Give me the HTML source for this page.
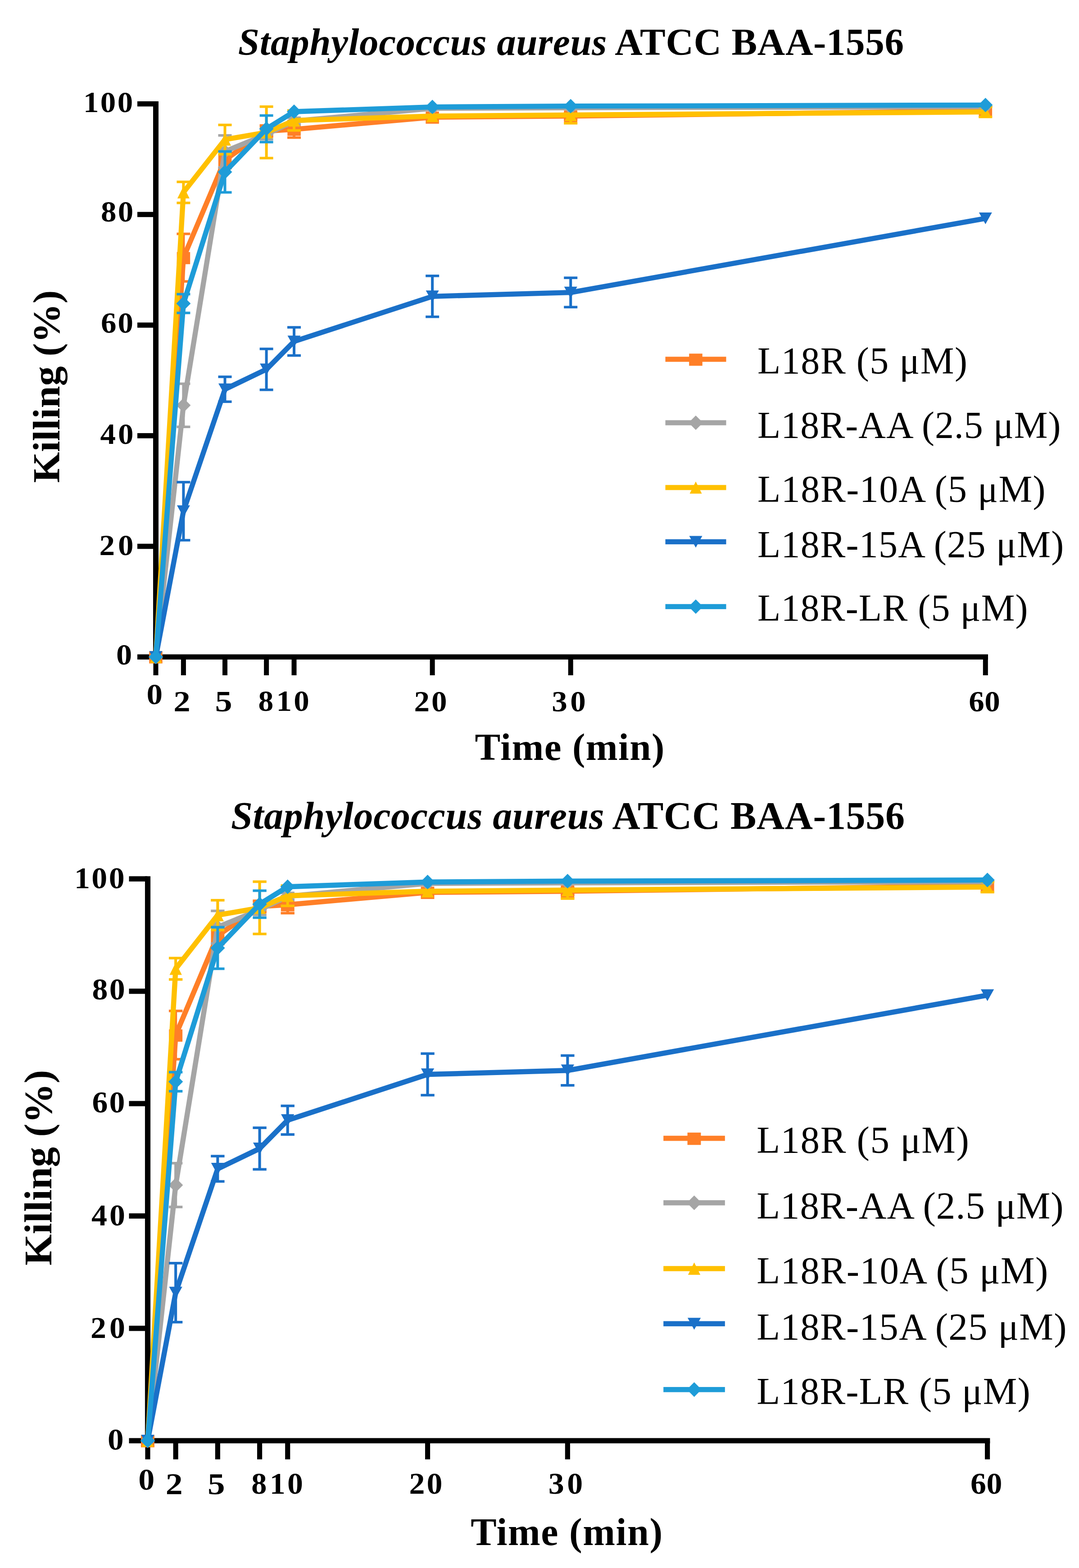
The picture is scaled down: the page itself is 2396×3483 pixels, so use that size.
<!DOCTYPE html>
<html><head><meta charset="utf-8"><title>Staphylococcus aureus ATCC BAA-1556 killing kinetics</title>
<style>html,body{margin:0;padding:0;background:#fff;} svg{display:block;}</style></head>
<body>
<svg width="2396" height="3483" viewBox="0 0 2396 3483">
<rect width="2396" height="3483" fill="#fff"/>
<g>
<text x="528.8" y="121.5" font-family="Liberation Serif, Times New Roman, serif" font-size="85" font-weight="bold" letter-spacing="0.67"><tspan font-style="italic">Staphylococcus aureus</tspan> ATCC BAA-1556</text>
<rect x="340" y="225" width="12" height="1240" fill="#000"/>
<rect x="305" y="1453.5" width="1889" height="11.5" fill="#000"/>
<rect x="305" y="225.0" width="40" height="11.5" fill="#000"/>
<rect x="305" y="470.7" width="40" height="11.5" fill="#000"/>
<rect x="305" y="716.4" width="40" height="11.5" fill="#000"/>
<rect x="305" y="962.1" width="40" height="11.5" fill="#000"/>
<rect x="305" y="1207.8" width="40" height="11.5" fill="#000"/>
<rect x="340.5" y="1460" width="11" height="40" fill="#000"/>
<rect x="401.9" y="1460" width="11" height="40" fill="#000"/>
<rect x="494.0" y="1460" width="11" height="40" fill="#000"/>
<rect x="586.1" y="1460" width="11" height="40" fill="#000"/>
<rect x="647.5" y="1460" width="11" height="40" fill="#000"/>
<rect x="954.6" y="1460" width="11" height="40" fill="#000"/>
<rect x="1261.7" y="1460" width="11" height="40" fill="#000"/>
<rect x="2182.8" y="1460" width="11" height="40" fill="#000"/>
<text transform="translate(184.90,248.50) scale(1.05,1)" x="0" y="0" font-family="Liberation Serif, Times New Roman, serif" font-size="65.7" font-weight="bold" letter-spacing="3.286">100</text>
<text transform="translate(223.90,491.90) scale(1.05,1)" x="0" y="0" font-family="Liberation Serif, Times New Roman, serif" font-size="65.7" font-weight="bold" letter-spacing="3.143">80</text>
<text transform="translate(224.00,738.90) scale(1.05,1)" x="0" y="0" font-family="Liberation Serif, Times New Roman, serif" font-size="65.7" font-weight="bold" letter-spacing="2.857">60</text>
<text transform="translate(222.50,985.90) scale(1.05,1)" x="0" y="0" font-family="Liberation Serif, Times New Roman, serif" font-size="65.7" font-weight="bold" letter-spacing="4.762">40</text>
<text transform="translate(220.50,1232.50) scale(1.05,1)" x="0" y="0" font-family="Liberation Serif, Times New Roman, serif" font-size="65.7" font-weight="bold" letter-spacing="6.667">20</text>
<text transform="translate(258.00,1476.40) scale(1.0717,1)" x="0" y="0" font-family="Liberation Serif, Times New Roman, serif" font-size="65.7" font-weight="bold" letter-spacing="0.0">0</text>
<text transform="translate(325.40,1564.40) scale(1.0826,1)" x="0" y="0" font-family="Liberation Serif, Times New Roman, serif" font-size="65.7" font-weight="bold" letter-spacing="0.0">0</text>
<text transform="translate(385.20,1579.60) scale(1.1405,1)" x="0" y="0" font-family="Liberation Serif, Times New Roman, serif" font-size="65.7" font-weight="bold" letter-spacing="0.0">2</text>
<text transform="translate(477.50,1579.60) scale(1.1586,1)" x="0" y="0" font-family="Liberation Serif, Times New Roman, serif" font-size="65.7" font-weight="bold" letter-spacing="0.0">5</text>
<text transform="translate(573.40,1579.40) scale(1.0255,1)" x="0" y="0" font-family="Liberation Serif, Times New Roman, serif" font-size="65.7" font-weight="bold" letter-spacing="0.0">8</text>
<text transform="translate(613.60,1579.40) scale(1.05,1)" x="0" y="0" font-family="Liberation Serif, Times New Roman, serif" font-size="65.7" font-weight="bold" letter-spacing="3.905">10</text>
<text transform="translate(919.50,1579.50) scale(1.05,1)" x="0" y="0" font-family="Liberation Serif, Times New Roman, serif" font-size="65.7" font-weight="bold" letter-spacing="3.905">20</text>
<text transform="translate(1225.20,1579.50) scale(1.05,1)" x="0" y="0" font-family="Liberation Serif, Times New Roman, serif" font-size="65.7" font-weight="bold" letter-spacing="6.19">30</text>
<text transform="translate(2151.20,1579.50) scale(1.05,1)" x="0" y="0" font-family="Liberation Serif, Times New Roman, serif" font-size="65.7" font-weight="bold" letter-spacing="0.476">60</text>
<text x="1054.6" y="1687.7" font-family="Liberation Serif, Times New Roman, serif" font-size="85" font-weight="bold" letter-spacing="1.55">Time (min)</text>
<text transform="translate(131.70,1072.50) rotate(-90) scale(1.035,1)" x="0" y="0" font-family="Liberation Serif, Times New Roman, serif" font-size="85" font-weight="bold">Killing (%)</text>
<path d="M346.0 1459.2L407.4 572.3L499.5 354.9L591.6 291.0L653.0 287.3L960.1 260.3L1267.2 257.8L2188.3 246.2" fill="none" stroke="#FF7F27" stroke-width="11.3" stroke-linejoin="round"/>
<rect x="404.4" y="519.5" width="6.0" height="105.6" fill="#FF7F27"/>
<rect x="392.4" y="516.7" width="30.0" height="5.6" fill="#FF7F27"/>
<rect x="392.4" y="622.3" width="30.0" height="5.6" fill="#FF7F27"/>
<rect x="496.5" y="336.4" width="6.0" height="36.9" fill="#FF7F27"/>
<rect x="484.5" y="333.6" width="30.0" height="5.6" fill="#FF7F27"/>
<rect x="484.5" y="370.5" width="30.0" height="5.6" fill="#FF7F27"/>
<rect x="588.6" y="278.7" width="6.0" height="24.6" fill="#FF7F27"/>
<rect x="576.6" y="275.9" width="30.0" height="5.6" fill="#FF7F27"/>
<rect x="576.6" y="300.5" width="30.0" height="5.6" fill="#FF7F27"/>
<rect x="650.0" y="268.9" width="6.0" height="36.9" fill="#FF7F27"/>
<rect x="638.0" y="266.1" width="30.0" height="5.6" fill="#FF7F27"/>
<rect x="638.0" y="302.9" width="30.0" height="5.6" fill="#FF7F27"/>
<rect x="1264.2" y="250.5" width="6.0" height="14.7" fill="#FF7F27"/>
<rect x="1252.2" y="247.7" width="30.0" height="5.6" fill="#FF7F27"/>
<rect x="1252.2" y="262.4" width="30.0" height="5.6" fill="#FF7F27"/>
<rect x="331.2" y="1446.7" width="29.5" height="27" fill="#FF7F27"/>
<rect x="392.7" y="559.8" width="29.5" height="27" fill="#FF7F27"/>
<rect x="484.8" y="342.4" width="29.5" height="27" fill="#FF7F27"/>
<rect x="576.9" y="278.5" width="29.5" height="27" fill="#FF7F27"/>
<rect x="638.3" y="274.8" width="29.5" height="27" fill="#FF7F27"/>
<rect x="945.3" y="247.8" width="29.5" height="27" fill="#FF7F27"/>
<rect x="1252.4" y="245.3" width="29.5" height="27" fill="#FF7F27"/>
<rect x="2173.6" y="233.7" width="29.5" height="27" fill="#FF7F27"/>
<path d="M346.0 1459.2L407.4 900.3L499.5 336.4L591.6 298.4L653.0 268.9L960.1 240.6L1267.2 239.4L2188.3 236.9" fill="none" stroke="#A5A5A5" stroke-width="11.3" stroke-linejoin="round"/>
<rect x="404.4" y="852.4" width="6.0" height="95.8" fill="#A5A5A5"/>
<rect x="392.4" y="849.6" width="30.0" height="5.6" fill="#A5A5A5"/>
<rect x="392.4" y="945.4" width="30.0" height="5.6" fill="#A5A5A5"/>
<rect x="496.5" y="300.8" width="6.0" height="71.2" fill="#A5A5A5"/>
<rect x="484.5" y="298.0" width="30.0" height="5.6" fill="#A5A5A5"/>
<rect x="484.5" y="369.3" width="30.0" height="5.6" fill="#A5A5A5"/>
<rect x="588.6" y="287.3" width="6.0" height="22.1" fill="#A5A5A5"/>
<rect x="576.6" y="284.5" width="30.0" height="5.6" fill="#A5A5A5"/>
<rect x="576.6" y="306.6" width="30.0" height="5.6" fill="#A5A5A5"/>
<rect x="650.0" y="261.5" width="6.0" height="14.7" fill="#A5A5A5"/>
<rect x="638.0" y="258.7" width="30.0" height="5.6" fill="#A5A5A5"/>
<rect x="638.0" y="273.5" width="30.0" height="5.6" fill="#A5A5A5"/>
<path d="M346.0 1443.2L362.0 1459.2L346.0 1475.2L330.0 1459.2Z" fill="#A5A5A5"/>
<path d="M407.4 884.3L423.4 900.3L407.4 916.3L391.4 900.3Z" fill="#A5A5A5"/>
<path d="M499.5 320.4L515.5 336.4L499.5 352.4L483.5 336.4Z" fill="#A5A5A5"/>
<path d="M591.6 282.4L607.6 298.4L591.6 314.4L575.6 298.4Z" fill="#A5A5A5"/>
<path d="M653.0 252.9L669.0 268.9L653.0 284.9L637.0 268.9Z" fill="#A5A5A5"/>
<path d="M960.1 224.6L976.1 240.6L960.1 256.6L944.1 240.6Z" fill="#A5A5A5"/>
<path d="M1267.2 223.4L1283.2 239.4L1267.2 255.4L1251.2 239.4Z" fill="#A5A5A5"/>
<path d="M2188.3 220.9L2204.3 236.9L2188.3 252.9L2172.3 236.9Z" fill="#A5A5A5"/>
<path d="M346.0 1459.2L407.4 427.3L499.5 310.0L591.6 294.1L653.0 267.7L960.1 257.8L1267.2 255.4L2188.3 248.6" fill="none" stroke="#FFC000" stroke-width="11.3" stroke-linejoin="round"/>
<rect x="404.4" y="404.0" width="6.0" height="46.7" fill="#FFC000"/>
<rect x="392.4" y="401.2" width="30.0" height="5.6" fill="#FFC000"/>
<rect x="392.4" y="447.9" width="30.0" height="5.6" fill="#FFC000"/>
<rect x="496.5" y="277.5" width="6.0" height="65.1" fill="#FFC000"/>
<rect x="484.5" y="274.7" width="30.0" height="5.6" fill="#FFC000"/>
<rect x="484.5" y="339.8" width="30.0" height="5.6" fill="#FFC000"/>
<rect x="588.6" y="236.9" width="6.0" height="114.2" fill="#FFC000"/>
<rect x="576.6" y="234.1" width="30.0" height="5.6" fill="#FFC000"/>
<rect x="576.6" y="348.4" width="30.0" height="5.6" fill="#FFC000"/>
<rect x="650.0" y="245.5" width="6.0" height="44.2" fill="#FFC000"/>
<rect x="638.0" y="242.7" width="30.0" height="5.6" fill="#FFC000"/>
<rect x="638.0" y="287.0" width="30.0" height="5.6" fill="#FFC000"/>
<rect x="1264.2" y="236.9" width="6.0" height="36.9" fill="#FFC000"/>
<rect x="1252.2" y="234.1" width="30.0" height="5.6" fill="#FFC000"/>
<rect x="1252.2" y="271.0" width="30.0" height="5.6" fill="#FFC000"/>
<rect x="2185.3" y="237.6" width="6.0" height="22.1" fill="#FFC000"/>
<rect x="2173.3" y="234.8" width="30.0" height="5.6" fill="#FFC000"/>
<rect x="2173.3" y="256.9" width="30.0" height="5.6" fill="#FFC000"/>
<path d="M346.0 1445.7L359.5 1472.7L332.5 1472.7Z" fill="#FFC000"/>
<path d="M407.4 413.8L420.9 440.8L393.9 440.8Z" fill="#FFC000"/>
<path d="M499.5 296.5L513.0 323.5L486.0 323.5Z" fill="#FFC000"/>
<path d="M591.6 280.6L605.1 307.6L578.1 307.6Z" fill="#FFC000"/>
<path d="M653.0 254.2L666.5 281.2L639.5 281.2Z" fill="#FFC000"/>
<path d="M960.1 244.3L973.6 271.3L946.6 271.3Z" fill="#FFC000"/>
<path d="M1267.2 241.9L1280.7 268.9L1253.7 268.9Z" fill="#FFC000"/>
<path d="M2188.3 235.1L2201.8 262.1L2174.8 262.1Z" fill="#FFC000"/>
<path d="M346.0 1459.2L407.4 1135.5L499.5 864.7L591.6 820.4L653.0 758.4L960.1 658.3L1267.2 649.7L2188.3 485.1" fill="none" stroke="#1A70C8" stroke-width="11.3" stroke-linejoin="round"/>
<rect x="404.4" y="1071.0" width="6.0" height="129.0" fill="#1A70C8"/>
<rect x="392.4" y="1068.2" width="30.0" height="5.6" fill="#1A70C8"/>
<rect x="392.4" y="1197.2" width="30.0" height="5.6" fill="#1A70C8"/>
<rect x="496.5" y="837.0" width="6.0" height="55.3" fill="#1A70C8"/>
<rect x="484.5" y="834.2" width="30.0" height="5.6" fill="#1A70C8"/>
<rect x="484.5" y="889.5" width="30.0" height="5.6" fill="#1A70C8"/>
<rect x="588.6" y="775.0" width="6.0" height="90.9" fill="#1A70C8"/>
<rect x="576.6" y="772.2" width="30.0" height="5.6" fill="#1A70C8"/>
<rect x="576.6" y="863.1" width="30.0" height="5.6" fill="#1A70C8"/>
<rect x="650.0" y="727.1" width="6.0" height="62.6" fill="#1A70C8"/>
<rect x="638.0" y="724.3" width="30.0" height="5.6" fill="#1A70C8"/>
<rect x="638.0" y="786.9" width="30.0" height="5.6" fill="#1A70C8"/>
<rect x="957.1" y="612.8" width="6.0" height="90.9" fill="#1A70C8"/>
<rect x="945.1" y="610.0" width="30.0" height="5.6" fill="#1A70C8"/>
<rect x="945.1" y="700.9" width="30.0" height="5.6" fill="#1A70C8"/>
<rect x="1264.2" y="617.1" width="6.0" height="65.1" fill="#1A70C8"/>
<rect x="1252.2" y="614.3" width="30.0" height="5.6" fill="#1A70C8"/>
<rect x="1252.2" y="679.4" width="30.0" height="5.6" fill="#1A70C8"/>
<path d="M346.0 1472.2L360.5 1446.2L331.5 1446.2Z" fill="#1A70C8"/>
<path d="M407.4 1148.5L421.9 1122.5L392.9 1122.5Z" fill="#1A70C8"/>
<path d="M499.5 877.7L514.0 851.7L485.0 851.7Z" fill="#1A70C8"/>
<path d="M591.6 833.4L606.1 807.4L577.1 807.4Z" fill="#1A70C8"/>
<path d="M653.0 771.4L667.5 745.4L638.5 745.4Z" fill="#1A70C8"/>
<path d="M960.1 671.3L974.6 645.3L945.6 645.3Z" fill="#1A70C8"/>
<path d="M1267.2 662.7L1281.7 636.7L1252.7 636.7Z" fill="#1A70C8"/>
<path d="M2188.3 498.1L2202.8 472.1L2173.8 472.1Z" fill="#1A70C8"/>
<path d="M346.0 1459.2L407.4 674.3L499.5 381.9L591.6 286.1L653.0 248.0L960.1 237.6L1267.2 235.7L2188.3 233.3" fill="none" stroke="#1E9CD8" stroke-width="11.3" stroke-linejoin="round"/>
<rect x="404.4" y="653.4" width="6.0" height="41.8" fill="#1E9CD8"/>
<rect x="392.4" y="650.6" width="30.0" height="5.6" fill="#1E9CD8"/>
<rect x="392.4" y="692.3" width="30.0" height="5.6" fill="#1E9CD8"/>
<rect x="496.5" y="336.4" width="6.0" height="90.9" fill="#1E9CD8"/>
<rect x="484.5" y="333.6" width="30.0" height="5.6" fill="#1E9CD8"/>
<rect x="484.5" y="424.5" width="30.0" height="5.6" fill="#1E9CD8"/>
<rect x="588.6" y="256.6" width="6.0" height="59.0" fill="#1E9CD8"/>
<rect x="576.6" y="253.8" width="30.0" height="5.6" fill="#1E9CD8"/>
<rect x="576.6" y="312.8" width="30.0" height="5.6" fill="#1E9CD8"/>
<path d="M346.0 1443.2L362.0 1459.2L346.0 1475.2L330.0 1459.2Z" fill="#1E9CD8"/>
<path d="M407.4 658.3L423.4 674.3L407.4 690.3L391.4 674.3Z" fill="#1E9CD8"/>
<path d="M499.5 365.9L515.5 381.9L499.5 397.9L483.5 381.9Z" fill="#1E9CD8"/>
<path d="M591.6 270.1L607.6 286.1L591.6 302.1L575.6 286.1Z" fill="#1E9CD8"/>
<path d="M653.0 232.0L669.0 248.0L653.0 264.0L637.0 248.0Z" fill="#1E9CD8"/>
<path d="M960.1 221.6L976.1 237.6L960.1 253.6L944.1 237.6Z" fill="#1E9CD8"/>
<path d="M1267.2 219.7L1283.2 235.7L1267.2 251.7L1251.2 235.7Z" fill="#1E9CD8"/>
<path d="M2188.3 217.3L2204.3 233.3L2188.3 249.3L2172.3 233.3Z" fill="#1E9CD8"/>
<rect x="1477.5" y="792.4" width="135" height="11.3" fill="#FF7F27"/>
<rect x="1530.2" y="785.5" width="29.5" height="27" fill="#FF7F27"/>
<text x="1682" y="830" font-family="Liberation Serif, Times New Roman, serif" font-size="84" letter-spacing="1.5">L18R (5 μM)</text>
<rect x="1477.5" y="933.4" width="135" height="11.3" fill="#A5A5A5"/>
<path d="M1545.0 923.0L1561.0 939.0L1545.0 955.0L1529.0 939.0Z" fill="#A5A5A5"/>
<text x="1682" y="973.3" font-family="Liberation Serif, Times New Roman, serif" font-size="84" letter-spacing="0.99">L18R-AA (2.5 μM)</text>
<rect x="1477.5" y="1077.3" width="135" height="11.3" fill="#FFC000"/>
<path d="M1545.0 1069.5L1558.5 1096.5L1531.5 1096.5Z" fill="#FFC000"/>
<text x="1682" y="1115.2" font-family="Liberation Serif, Times New Roman, serif" font-size="84" letter-spacing="1.47">L18R-10A (5 μM)</text>
<rect x="1477.5" y="1197.8" width="135" height="11.3" fill="#1A70C8"/>
<path d="M1545.0 1216.5L1559.5 1190.5L1530.5 1190.5Z" fill="#1A70C8"/>
<text x="1682" y="1238.3" font-family="Liberation Serif, Times New Roman, serif" font-size="84" letter-spacing="1.28">L18R-15A (25 μM)</text>
<rect x="1477.5" y="1341.8" width="135" height="11.3" fill="#1E9CD8"/>
<path d="M1545.0 1331.4L1561.0 1347.4L1545.0 1363.4L1529.0 1347.4Z" fill="#1E9CD8"/>
<text x="1682" y="1379.3" font-family="Liberation Serif, Times New Roman, serif" font-size="84" letter-spacing="1.09">L18R-LR (5 μM)</text>
</g>
<g transform="translate(-22.19,1717.80) scale(1.0121,1.0159)">
<text x="528.8" y="121.5" font-family="Liberation Serif, Times New Roman, serif" font-size="85" font-weight="bold" letter-spacing="0.67"><tspan font-style="italic">Staphylococcus aureus</tspan> ATCC BAA-1556</text>
<rect x="340" y="225" width="12" height="1240" fill="#000"/>
<rect x="305" y="1453.5" width="1889" height="11.5" fill="#000"/>
<rect x="305" y="225.0" width="40" height="11.5" fill="#000"/>
<rect x="305" y="470.7" width="40" height="11.5" fill="#000"/>
<rect x="305" y="716.4" width="40" height="11.5" fill="#000"/>
<rect x="305" y="962.1" width="40" height="11.5" fill="#000"/>
<rect x="305" y="1207.8" width="40" height="11.5" fill="#000"/>
<rect x="340.5" y="1460" width="11" height="40" fill="#000"/>
<rect x="401.9" y="1460" width="11" height="40" fill="#000"/>
<rect x="494.0" y="1460" width="11" height="40" fill="#000"/>
<rect x="586.1" y="1460" width="11" height="40" fill="#000"/>
<rect x="647.5" y="1460" width="11" height="40" fill="#000"/>
<rect x="954.6" y="1460" width="11" height="40" fill="#000"/>
<rect x="1261.7" y="1460" width="11" height="40" fill="#000"/>
<rect x="2182.8" y="1460" width="11" height="40" fill="#000"/>
<text transform="translate(184.90,251.00) scale(1.05,1)" x="0" y="0" font-family="Liberation Serif, Times New Roman, serif" font-size="65.7" font-weight="bold" letter-spacing="3.286">100</text>
<text transform="translate(223.90,494.40) scale(1.05,1)" x="0" y="0" font-family="Liberation Serif, Times New Roman, serif" font-size="65.7" font-weight="bold" letter-spacing="3.143">80</text>
<text transform="translate(224.00,741.40) scale(1.05,1)" x="0" y="0" font-family="Liberation Serif, Times New Roman, serif" font-size="65.7" font-weight="bold" letter-spacing="2.857">60</text>
<text transform="translate(222.50,988.40) scale(1.05,1)" x="0" y="0" font-family="Liberation Serif, Times New Roman, serif" font-size="65.7" font-weight="bold" letter-spacing="4.762">40</text>
<text transform="translate(220.50,1235.00) scale(1.05,1)" x="0" y="0" font-family="Liberation Serif, Times New Roman, serif" font-size="65.7" font-weight="bold" letter-spacing="6.667">20</text>
<text transform="translate(258.00,1478.90) scale(1.0717,1)" x="0" y="0" font-family="Liberation Serif, Times New Roman, serif" font-size="65.7" font-weight="bold" letter-spacing="0.0">0</text>
<text transform="translate(325.40,1566.20) scale(1.0826,1)" x="0" y="0" font-family="Liberation Serif, Times New Roman, serif" font-size="65.7" font-weight="bold" letter-spacing="0.0">0</text>
<text transform="translate(385.20,1575.70) scale(1.1405,1)" x="0" y="0" font-family="Liberation Serif, Times New Roman, serif" font-size="65.7" font-weight="bold" letter-spacing="0.0">2</text>
<text transform="translate(477.50,1575.70) scale(1.1586,1)" x="0" y="0" font-family="Liberation Serif, Times New Roman, serif" font-size="65.7" font-weight="bold" letter-spacing="0.0">5</text>
<text transform="translate(573.40,1575.50) scale(1.0255,1)" x="0" y="0" font-family="Liberation Serif, Times New Roman, serif" font-size="65.7" font-weight="bold" letter-spacing="0.0">8</text>
<text transform="translate(613.60,1575.50) scale(1.05,1)" x="0" y="0" font-family="Liberation Serif, Times New Roman, serif" font-size="65.7" font-weight="bold" letter-spacing="3.905">10</text>
<text transform="translate(919.50,1575.60) scale(1.05,1)" x="0" y="0" font-family="Liberation Serif, Times New Roman, serif" font-size="65.7" font-weight="bold" letter-spacing="3.905">20</text>
<text transform="translate(1225.20,1575.60) scale(1.05,1)" x="0" y="0" font-family="Liberation Serif, Times New Roman, serif" font-size="65.7" font-weight="bold" letter-spacing="6.19">30</text>
<text transform="translate(2151.20,1575.60) scale(1.05,1)" x="0" y="0" font-family="Liberation Serif, Times New Roman, serif" font-size="65.7" font-weight="bold" letter-spacing="0.476">60</text>
<text x="1054.6" y="1687.7" font-family="Liberation Serif, Times New Roman, serif" font-size="85" font-weight="bold" letter-spacing="1.55">Time (min)</text>
<text transform="translate(134.20,1076.00) rotate(-90) scale(1.035,1)" x="0" y="0" font-family="Liberation Serif, Times New Roman, serif" font-size="85" font-weight="bold">Killing (%)</text>
<path d="M346.0 1459.2L407.4 572.3L499.5 354.9L591.6 291.0L653.0 287.3L960.1 260.3L1267.2 257.8L2188.3 246.2" fill="none" stroke="#FF7F27" stroke-width="11.3" stroke-linejoin="round"/>
<rect x="404.4" y="519.5" width="6.0" height="105.6" fill="#FF7F27"/>
<rect x="392.4" y="516.7" width="30.0" height="5.6" fill="#FF7F27"/>
<rect x="392.4" y="622.3" width="30.0" height="5.6" fill="#FF7F27"/>
<rect x="496.5" y="336.4" width="6.0" height="36.9" fill="#FF7F27"/>
<rect x="484.5" y="333.6" width="30.0" height="5.6" fill="#FF7F27"/>
<rect x="484.5" y="370.5" width="30.0" height="5.6" fill="#FF7F27"/>
<rect x="588.6" y="278.7" width="6.0" height="24.6" fill="#FF7F27"/>
<rect x="576.6" y="275.9" width="30.0" height="5.6" fill="#FF7F27"/>
<rect x="576.6" y="300.5" width="30.0" height="5.6" fill="#FF7F27"/>
<rect x="650.0" y="268.9" width="6.0" height="36.9" fill="#FF7F27"/>
<rect x="638.0" y="266.1" width="30.0" height="5.6" fill="#FF7F27"/>
<rect x="638.0" y="302.9" width="30.0" height="5.6" fill="#FF7F27"/>
<rect x="1264.2" y="250.5" width="6.0" height="14.7" fill="#FF7F27"/>
<rect x="1252.2" y="247.7" width="30.0" height="5.6" fill="#FF7F27"/>
<rect x="1252.2" y="262.4" width="30.0" height="5.6" fill="#FF7F27"/>
<rect x="331.2" y="1446.7" width="29.5" height="27" fill="#FF7F27"/>
<rect x="392.7" y="559.8" width="29.5" height="27" fill="#FF7F27"/>
<rect x="484.8" y="342.4" width="29.5" height="27" fill="#FF7F27"/>
<rect x="576.9" y="278.5" width="29.5" height="27" fill="#FF7F27"/>
<rect x="638.3" y="274.8" width="29.5" height="27" fill="#FF7F27"/>
<rect x="945.3" y="247.8" width="29.5" height="27" fill="#FF7F27"/>
<rect x="1252.4" y="245.3" width="29.5" height="27" fill="#FF7F27"/>
<rect x="2173.6" y="233.7" width="29.5" height="27" fill="#FF7F27"/>
<path d="M346.0 1459.2L407.4 900.3L499.5 336.4L591.6 298.4L653.0 268.9L960.1 240.6L1267.2 239.4L2188.3 236.9" fill="none" stroke="#A5A5A5" stroke-width="11.3" stroke-linejoin="round"/>
<rect x="404.4" y="852.4" width="6.0" height="95.8" fill="#A5A5A5"/>
<rect x="392.4" y="849.6" width="30.0" height="5.6" fill="#A5A5A5"/>
<rect x="392.4" y="945.4" width="30.0" height="5.6" fill="#A5A5A5"/>
<rect x="496.5" y="300.8" width="6.0" height="71.2" fill="#A5A5A5"/>
<rect x="484.5" y="298.0" width="30.0" height="5.6" fill="#A5A5A5"/>
<rect x="484.5" y="369.3" width="30.0" height="5.6" fill="#A5A5A5"/>
<rect x="588.6" y="287.3" width="6.0" height="22.1" fill="#A5A5A5"/>
<rect x="576.6" y="284.5" width="30.0" height="5.6" fill="#A5A5A5"/>
<rect x="576.6" y="306.6" width="30.0" height="5.6" fill="#A5A5A5"/>
<rect x="650.0" y="261.5" width="6.0" height="14.7" fill="#A5A5A5"/>
<rect x="638.0" y="258.7" width="30.0" height="5.6" fill="#A5A5A5"/>
<rect x="638.0" y="273.5" width="30.0" height="5.6" fill="#A5A5A5"/>
<path d="M346.0 1443.2L362.0 1459.2L346.0 1475.2L330.0 1459.2Z" fill="#A5A5A5"/>
<path d="M407.4 884.3L423.4 900.3L407.4 916.3L391.4 900.3Z" fill="#A5A5A5"/>
<path d="M499.5 320.4L515.5 336.4L499.5 352.4L483.5 336.4Z" fill="#A5A5A5"/>
<path d="M591.6 282.4L607.6 298.4L591.6 314.4L575.6 298.4Z" fill="#A5A5A5"/>
<path d="M653.0 252.9L669.0 268.9L653.0 284.9L637.0 268.9Z" fill="#A5A5A5"/>
<path d="M960.1 224.6L976.1 240.6L960.1 256.6L944.1 240.6Z" fill="#A5A5A5"/>
<path d="M1267.2 223.4L1283.2 239.4L1267.2 255.4L1251.2 239.4Z" fill="#A5A5A5"/>
<path d="M2188.3 220.9L2204.3 236.9L2188.3 252.9L2172.3 236.9Z" fill="#A5A5A5"/>
<path d="M346.0 1459.2L407.4 427.3L499.5 310.0L591.6 294.1L653.0 267.7L960.1 257.8L1267.2 255.4L2188.3 248.6" fill="none" stroke="#FFC000" stroke-width="11.3" stroke-linejoin="round"/>
<rect x="404.4" y="404.0" width="6.0" height="46.7" fill="#FFC000"/>
<rect x="392.4" y="401.2" width="30.0" height="5.6" fill="#FFC000"/>
<rect x="392.4" y="447.9" width="30.0" height="5.6" fill="#FFC000"/>
<rect x="496.5" y="277.5" width="6.0" height="65.1" fill="#FFC000"/>
<rect x="484.5" y="274.7" width="30.0" height="5.6" fill="#FFC000"/>
<rect x="484.5" y="339.8" width="30.0" height="5.6" fill="#FFC000"/>
<rect x="588.6" y="236.9" width="6.0" height="114.2" fill="#FFC000"/>
<rect x="576.6" y="234.1" width="30.0" height="5.6" fill="#FFC000"/>
<rect x="576.6" y="348.4" width="30.0" height="5.6" fill="#FFC000"/>
<rect x="650.0" y="245.5" width="6.0" height="44.2" fill="#FFC000"/>
<rect x="638.0" y="242.7" width="30.0" height="5.6" fill="#FFC000"/>
<rect x="638.0" y="287.0" width="30.0" height="5.6" fill="#FFC000"/>
<rect x="1264.2" y="236.9" width="6.0" height="36.9" fill="#FFC000"/>
<rect x="1252.2" y="234.1" width="30.0" height="5.6" fill="#FFC000"/>
<rect x="1252.2" y="271.0" width="30.0" height="5.6" fill="#FFC000"/>
<rect x="2185.3" y="237.6" width="6.0" height="22.1" fill="#FFC000"/>
<rect x="2173.3" y="234.8" width="30.0" height="5.6" fill="#FFC000"/>
<rect x="2173.3" y="256.9" width="30.0" height="5.6" fill="#FFC000"/>
<path d="M346.0 1445.7L359.5 1472.7L332.5 1472.7Z" fill="#FFC000"/>
<path d="M407.4 413.8L420.9 440.8L393.9 440.8Z" fill="#FFC000"/>
<path d="M499.5 296.5L513.0 323.5L486.0 323.5Z" fill="#FFC000"/>
<path d="M591.6 280.6L605.1 307.6L578.1 307.6Z" fill="#FFC000"/>
<path d="M653.0 254.2L666.5 281.2L639.5 281.2Z" fill="#FFC000"/>
<path d="M960.1 244.3L973.6 271.3L946.6 271.3Z" fill="#FFC000"/>
<path d="M1267.2 241.9L1280.7 268.9L1253.7 268.9Z" fill="#FFC000"/>
<path d="M2188.3 235.1L2201.8 262.1L2174.8 262.1Z" fill="#FFC000"/>
<path d="M346.0 1459.2L407.4 1135.5L499.5 864.7L591.6 820.4L653.0 758.4L960.1 658.3L1267.2 649.7L2188.3 485.1" fill="none" stroke="#1A70C8" stroke-width="11.3" stroke-linejoin="round"/>
<rect x="404.4" y="1071.0" width="6.0" height="129.0" fill="#1A70C8"/>
<rect x="392.4" y="1068.2" width="30.0" height="5.6" fill="#1A70C8"/>
<rect x="392.4" y="1197.2" width="30.0" height="5.6" fill="#1A70C8"/>
<rect x="496.5" y="837.0" width="6.0" height="55.3" fill="#1A70C8"/>
<rect x="484.5" y="834.2" width="30.0" height="5.6" fill="#1A70C8"/>
<rect x="484.5" y="889.5" width="30.0" height="5.6" fill="#1A70C8"/>
<rect x="588.6" y="775.0" width="6.0" height="90.9" fill="#1A70C8"/>
<rect x="576.6" y="772.2" width="30.0" height="5.6" fill="#1A70C8"/>
<rect x="576.6" y="863.1" width="30.0" height="5.6" fill="#1A70C8"/>
<rect x="650.0" y="727.1" width="6.0" height="62.6" fill="#1A70C8"/>
<rect x="638.0" y="724.3" width="30.0" height="5.6" fill="#1A70C8"/>
<rect x="638.0" y="786.9" width="30.0" height="5.6" fill="#1A70C8"/>
<rect x="957.1" y="612.8" width="6.0" height="90.9" fill="#1A70C8"/>
<rect x="945.1" y="610.0" width="30.0" height="5.6" fill="#1A70C8"/>
<rect x="945.1" y="700.9" width="30.0" height="5.6" fill="#1A70C8"/>
<rect x="1264.2" y="617.1" width="6.0" height="65.1" fill="#1A70C8"/>
<rect x="1252.2" y="614.3" width="30.0" height="5.6" fill="#1A70C8"/>
<rect x="1252.2" y="679.4" width="30.0" height="5.6" fill="#1A70C8"/>
<path d="M346.0 1472.2L360.5 1446.2L331.5 1446.2Z" fill="#1A70C8"/>
<path d="M407.4 1148.5L421.9 1122.5L392.9 1122.5Z" fill="#1A70C8"/>
<path d="M499.5 877.7L514.0 851.7L485.0 851.7Z" fill="#1A70C8"/>
<path d="M591.6 833.4L606.1 807.4L577.1 807.4Z" fill="#1A70C8"/>
<path d="M653.0 771.4L667.5 745.4L638.5 745.4Z" fill="#1A70C8"/>
<path d="M960.1 671.3L974.6 645.3L945.6 645.3Z" fill="#1A70C8"/>
<path d="M1267.2 662.7L1281.7 636.7L1252.7 636.7Z" fill="#1A70C8"/>
<path d="M2188.3 498.1L2202.8 472.1L2173.8 472.1Z" fill="#1A70C8"/>
<path d="M346.0 1459.2L407.4 674.3L499.5 381.9L591.6 286.1L653.0 248.0L960.1 237.6L1267.2 235.7L2188.3 233.3" fill="none" stroke="#1E9CD8" stroke-width="11.3" stroke-linejoin="round"/>
<rect x="404.4" y="653.4" width="6.0" height="41.8" fill="#1E9CD8"/>
<rect x="392.4" y="650.6" width="30.0" height="5.6" fill="#1E9CD8"/>
<rect x="392.4" y="692.3" width="30.0" height="5.6" fill="#1E9CD8"/>
<rect x="496.5" y="336.4" width="6.0" height="90.9" fill="#1E9CD8"/>
<rect x="484.5" y="333.6" width="30.0" height="5.6" fill="#1E9CD8"/>
<rect x="484.5" y="424.5" width="30.0" height="5.6" fill="#1E9CD8"/>
<rect x="588.6" y="256.6" width="6.0" height="59.0" fill="#1E9CD8"/>
<rect x="576.6" y="253.8" width="30.0" height="5.6" fill="#1E9CD8"/>
<rect x="576.6" y="312.8" width="30.0" height="5.6" fill="#1E9CD8"/>
<path d="M346.0 1443.2L362.0 1459.2L346.0 1475.2L330.0 1459.2Z" fill="#1E9CD8"/>
<path d="M407.4 658.3L423.4 674.3L407.4 690.3L391.4 674.3Z" fill="#1E9CD8"/>
<path d="M499.5 365.9L515.5 381.9L499.5 397.9L483.5 381.9Z" fill="#1E9CD8"/>
<path d="M591.6 270.1L607.6 286.1L591.6 302.1L575.6 286.1Z" fill="#1E9CD8"/>
<path d="M653.0 232.0L669.0 248.0L653.0 264.0L637.0 248.0Z" fill="#1E9CD8"/>
<path d="M960.1 221.6L976.1 237.6L960.1 253.6L944.1 237.6Z" fill="#1E9CD8"/>
<path d="M1267.2 219.7L1283.2 235.7L1267.2 251.7L1251.2 235.7Z" fill="#1E9CD8"/>
<path d="M2188.3 217.3L2204.3 233.3L2188.3 249.3L2172.3 233.3Z" fill="#1E9CD8"/>
<rect x="1477.5" y="792.4" width="135" height="11.3" fill="#FF7F27"/>
<rect x="1530.2" y="785.5" width="29.5" height="27" fill="#FF7F27"/>
<text x="1682" y="830" font-family="Liberation Serif, Times New Roman, serif" font-size="84" letter-spacing="1.5">L18R (5 μM)</text>
<rect x="1477.5" y="933.4" width="135" height="11.3" fill="#A5A5A5"/>
<path d="M1545.0 923.0L1561.0 939.0L1545.0 955.0L1529.0 939.0Z" fill="#A5A5A5"/>
<text x="1682" y="973.3" font-family="Liberation Serif, Times New Roman, serif" font-size="84" letter-spacing="0.99">L18R-AA (2.5 μM)</text>
<rect x="1477.5" y="1077.3" width="135" height="11.3" fill="#FFC000"/>
<path d="M1545.0 1069.5L1558.5 1096.5L1531.5 1096.5Z" fill="#FFC000"/>
<text x="1682" y="1115.2" font-family="Liberation Serif, Times New Roman, serif" font-size="84" letter-spacing="1.47">L18R-10A (5 μM)</text>
<rect x="1477.5" y="1197.8" width="135" height="11.3" fill="#1A70C8"/>
<path d="M1545.0 1216.5L1559.5 1190.5L1530.5 1190.5Z" fill="#1A70C8"/>
<text x="1682" y="1238.3" font-family="Liberation Serif, Times New Roman, serif" font-size="84" letter-spacing="1.28">L18R-15A (25 μM)</text>
<rect x="1477.5" y="1341.8" width="135" height="11.3" fill="#1E9CD8"/>
<path d="M1545.0 1331.4L1561.0 1347.4L1545.0 1363.4L1529.0 1347.4Z" fill="#1E9CD8"/>
<text x="1682" y="1379.3" font-family="Liberation Serif, Times New Roman, serif" font-size="84" letter-spacing="1.09">L18R-LR (5 μM)</text>
</g>
</svg>
</body></html>
